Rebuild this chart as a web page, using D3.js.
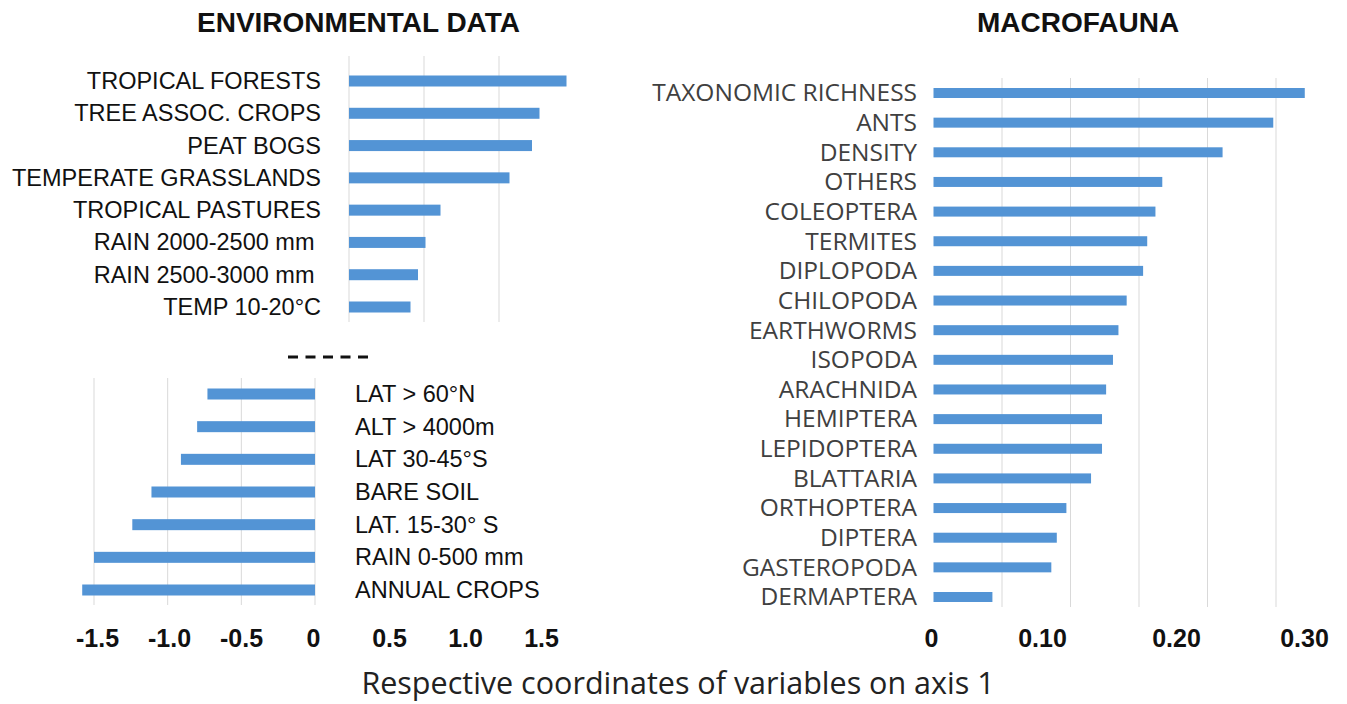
<!DOCTYPE html>
<html>
<head>
<meta charset="utf-8">
<script src="https://d3js.org/d3.v7.min.js"></script>
<style>
  body { margin: 0; background: #fff; }
  svg { display: block; }
</style>
</head>
<body>
<div id="chart"></div>
<script>
// Data
var envPosLabels = ["TROPICAL FORESTS", "TREE ASSOC. CROPS", "PEAT BOGS", "TEMPERATE GRASSLANDS",
  "TROPICAL PASTURES", "RAIN 2000-2500 mm\u00a0", "RAIN 2500-3000 mm\u00a0", "TEMP 10-20°C"];
var envPosValues = [1.45, 1.27, 1.22, 1.07, 0.61, 0.51, 0.46, 0.41];

var envNegLabels = ["LAT > 60°N", "ALT > 4000m", "LAT 30-45°S", "BARE SOIL",
  "LAT. 15-30° S", "RAIN 0-500 mm", "ANNUAL CROPS"];
var envNegValues = [-0.73, -0.80, -0.91, -1.11, -1.24, -1.50, -1.58];

var faunaLabels = ["TAXONOMIC RICHNESS", "ANTS", "DENSITY", "OTHERS", "COLEOPTERA", "TERMITES",
  "DIPLOPODA", "CHILOPODA", "EARTHWORMS", "ISOPODA", "ARACHNIDA", "HEMIPTERA", "LEPIDOPTERA",
  "BLATTARIA", "ORTHOPTERA", "DIPTERA", "GASTEROPODA", "DERMAPTERA"];
var faunaValues = [0.271, 0.248, 0.211, 0.167, 0.162, 0.156, 0.153, 0.141, 0.135,
  0.131, 0.126, 0.123, 0.123, 0.115, 0.097, 0.090, 0.086, 0.043];

var leftTickValues = [-1.5, -1.0, -0.5, 0, 0.5, 1.0, 1.5];
var leftTickLabels = ["-1.5", "-1.0", "-0.5", "0", "0.5", "1.0", "1.5"];
var rightTickValues = [0, 0.1, 0.2, 0.3];
var rightTickLabels = ["0", "0.10", "0.20", "0.30"];

var svgWidth = 1347, svgHeight = 704;
var barColor = "#5394d5";
var gridColor = "#d9d9d9";
var arial = "'Liberation Sans', Arial, sans-serif";
var calibri = "'Open Sans', 'Noto Sans', sans-serif";

var svg = d3.select("#chart")
  .append("svg")
  .attr("width", svgWidth)
  .attr("height", svgHeight);

// ---------- Environmental data: positive panel ----------
var xTop = d3.scaleLinear().domain([0, 1]).range([349, 499]);
var yTop = d3.scalePoint().domain(envPosLabels).range([81, 307]);

svg.append("g").selectAll("line")
  .data([0, 0.5, 1.0])
  .enter().append("line")
  .attr("x1", d => xTop(d)).attr("x2", d => xTop(d))
  .attr("y1", 56).attr("y2", 322)
  .attr("stroke", gridColor).attr("stroke-width", 1);

svg.append("g").selectAll("rect")
  .data(envPosValues)
  .enter().append("rect")
  .attr("x", xTop(0))
  .attr("y", (d, i) => yTop(envPosLabels[i]) - 5.5)
  .attr("width", d => xTop(d) - xTop(0))
  .attr("height", 11)
  .attr("fill", barColor);

var topLabels = svg.append("g")
  .attr("transform", "translate(321,0)")
  .call(d3.axisLeft(yTop).tickSize(0).tickPadding(0));
topLabels.select(".domain").remove();
topLabels.selectAll("text")
  .attr("font-family", arial)
  .attr("font-size", "23.5px")
  .attr("fill", "#111")
  .style("white-space", "pre");

// ---------- Environmental data: negative panel ----------
var xBot = d3.scaleLinear().domain([-1.5, 0]).range([94, 315]);
var yBot = d3.scalePoint().domain(envNegLabels).range([394, 590]);

svg.append("g").selectAll("line")
  .data([-1.5, -1.0, -0.5, 0])
  .enter().append("line")
  .attr("x1", d => xBot(d)).attr("x2", d => xBot(d))
  .attr("y1", 378).attr("y2", 605)
  .attr("stroke", gridColor).attr("stroke-width", 1);

svg.append("g").selectAll("rect")
  .data(envNegValues)
  .enter().append("rect")
  .attr("x", d => xBot(d))
  .attr("y", (d, i) => yBot(envNegLabels[i]) - 5.5)
  .attr("width", d => xBot(0) - xBot(d))
  .attr("height", 11)
  .attr("fill", barColor);

var botLabels = svg.append("g")
  .attr("transform", "translate(355,0)")
  .call(d3.axisRight(yBot).tickSize(0).tickPadding(0));
botLabels.select(".domain").remove();
botLabels.selectAll("text")
  .attr("font-family", arial)
  .attr("font-size", "23.5px")
  .attr("fill", "#111");

// separator dashes between the two halves
svg.append("line")
  .attr("x1", 288).attr("x2", 368)
  .attr("y1", 357).attr("y2", 357)
  .attr("stroke", "#111")
  .attr("stroke-width", 3)
  .attr("stroke-dasharray", "10,7.5");

// ---------- Macrofauna panel ----------
var xR = d3.scaleLinear().domain([0, 0.3]).range([933.5, 1344.5]);
var yR = d3.scalePoint().domain(faunaLabels).range([93, 597]);

svg.append("g").selectAll("line")
  .data([0.05, 0.10, 0.15, 0.20, 0.25])
  .enter().append("line")
  .attr("x1", d => xR(d)).attr("x2", d => xR(d))
  .attr("y1", 78).attr("y2", 607)
  .attr("stroke", gridColor).attr("stroke-width", 1);

svg.append("g").selectAll("rect")
  .data(faunaValues)
  .enter().append("rect")
  .attr("x", xR(0))
  .attr("y", (d, i) => yR(faunaLabels[i]) - 5)
  .attr("width", d => xR(d) - xR(0))
  .attr("height", 10)
  .attr("fill", barColor);

var rLabels = svg.append("g")
  .attr("transform", "translate(917,0)")
  .call(d3.axisLeft(yR).tickSize(0).tickPadding(0));
rLabels.select(".domain").remove();
rLabels.selectAll("text")
  .attr("font-family", calibri)
  .attr("font-size", "24.5px")
  .attr("fill", "#404040");

// ---------- Shared tick label row ----------
var leftTickScale = d3.scaleLinear().domain([-1.5, 0, 1.5]).range([97, 313, 541]);
var rightTickScale = d3.scaleLinear().domain([0, 0.1, 0.2, 0.3]).range([931, 1042, 1176, 1304]);

var lt = svg.append("g")
  .attr("transform", "translate(0,629)")
  .call(d3.axisBottom(leftTickScale).tickValues(leftTickValues)
    .tickFormat((d, i) => leftTickLabels[i]).tickSize(0).tickPadding(0));
var rt = svg.append("g")
  .attr("transform", "translate(0,629)")
  .call(d3.axisBottom(rightTickScale).tickValues(rightTickValues)
    .tickFormat((d, i) => rightTickLabels[i]).tickSize(0).tickPadding(0));
[lt, rt].forEach(function(g) {
  g.select(".domain").remove();
  g.selectAll("text")
    .attr("font-family", arial)
    .attr("font-weight", "bold")
    .attr("font-size", "25px")
    .attr("fill", "#111")
    .attr("dy", "0.71em");
});

// ---------- Titles ----------
svg.append("text")
  .attr("x", 358.5).attr("y", 32)
  .attr("text-anchor", "middle")
  .attr("font-family", arial)
  .attr("font-weight", "bold")
  .attr("font-size", "28px")
  .attr("fill", "#111")
  .text("ENVIRONMENTAL DATA");

svg.append("text")
  .attr("x", 1078).attr("y", 32)
  .attr("text-anchor", "middle")
  .attr("font-family", arial)
  .attr("font-weight", "bold")
  .attr("font-size", "28px")
  .attr("fill", "#111")
  .text("MACROFAUNA");

svg.append("text")
  .attr("x", 678).attr("y", 694)
  .attr("text-anchor", "middle")
  .attr("font-family", calibri)
  .attr("font-size", "30.5px")
  .attr("fill", "#222")
  .text("Respective coordinates of variables on axis 1");
</script>
</body>
</html>
